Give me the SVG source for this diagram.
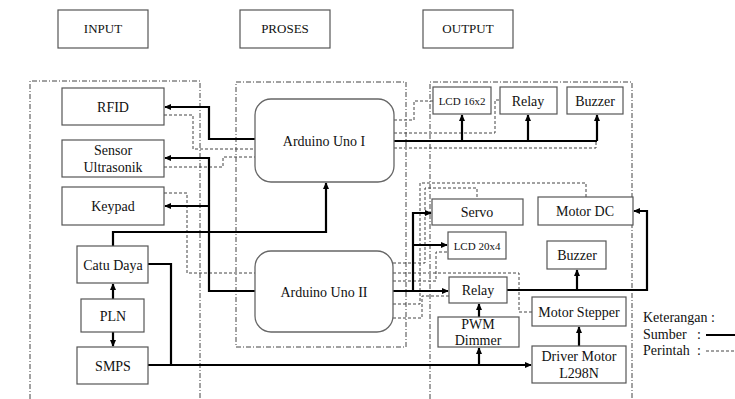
<svg xmlns="http://www.w3.org/2000/svg" width="735" height="399" viewBox="0 0 735 399" font-family="'Liberation Serif', 'Times New Roman', 'DejaVu Serif', serif">
<defs>
<marker id="ah" viewBox="0 0 8 8" refX="7" refY="4" markerWidth="7" markerHeight="7" markerUnits="userSpaceOnUse" orient="auto"><path d="M0,0.5 L8,4 L0,7.5 z" fill="#000"/></marker>
<style>
text{font-family:'Liberation Serif','Times New Roman','DejaVu Serif',serif}
.box{fill:#fff;stroke:#555;stroke-width:1.2}
.rbox{fill:#fff;stroke:#666;stroke-width:1.3}
.th{font-size:13px;fill:#111;text-anchor:middle}
.t{font-size:14px;fill:#111;text-anchor:middle}
.ts{font-size:11px;fill:#111;text-anchor:middle}
.tl{font-size:14px;fill:#111}
.reg{fill:none;stroke:#444;stroke-width:1;stroke-dasharray:5,2,1,2}
.src{fill:none;stroke:#000;stroke-width:2.2}
.arr{marker-end:url(#ah)}
.cmd{fill:none;stroke:#444;stroke-width:1;stroke-dasharray:3,2}
</style>
</defs>
<rect width="735" height="399" fill="#fff"/>
<g id="regions">
<path class="reg" d="M30,399 V81 H200 V399"/>
<rect class="reg" x="236" y="82" width="170" height="265"/>
<path class="reg" d="M430,399 V82 H632 V399"/>
</g>
<g id="header-input"><rect class="box" x="58" y="10" width="90" height="38"/><text class="th" x="103" y="33">INPUT</text></g>
<g id="header-proses"><rect class="box" x="240" y="10" width="90" height="38"/><text class="th" x="285" y="33">PROSES</text></g>
<g id="header-output"><rect class="box" x="423" y="10" width="90" height="38"/><text class="th" x="468" y="33">OUTPUT</text></g>
<g id="connectors">
<path class="cmd" d="M164,115 H193 V149 H255"/>
<path class="cmd" d="M164,167 H223 V157 H255"/>
<path class="cmd" d="M164,193 H187 V273 H255"/>
<path class="cmd" d="M394,120 H414 V101 H433"/>
<path class="cmd" d="M394,133 H495 V100 H500"/>
<path class="cmd" d="M394,148 H596 V141"/>
<path class="cmd" d="M393,263 H425 V188 H477 V199"/>
<path class="cmd" d="M393,304 H420 V183 H586 V197"/>
<path class="cmd" d="M393,281 H436 V252 H448"/>
<path class="cmd" d="M393,273 H519 V312 H532"/>
<path class="cmd" d="M393,318 H422 V296 H449"/>
<path class="src arr" d="M255,139 H209 V107 H165"/>
<path class="src arr" d="M255,291 H209 V158 H165"/>
<path class="src arr" d="M209,206 H165"/>
<path class="src arr" d="M113,246 V232 H326 V183"/>
<path class="src" d="M148,264 H171 V365"/>
<path class="src arr" d="M148,365 H531"/>
<path class="src arr" d="M479,365 V348"/>
<path class="src arr" d="M479,317 V304"/>
<path class="src arr" d="M579,346 V327"/>
<path class="src arr" d="M113,299 V284"/>
<path class="src arr" d="M113,332 V346"/>
<path class="src" d="M394,141 H597"/>
<path class="src arr" d="M462,141 V115"/>
<path class="src arr" d="M528,141 V115"/>
<path class="src arr" d="M597,141 V115"/>
<path class="src arr" d="M393,291 H448"/>
<path class="src arr" d="M413,291 V213 H431"/>
<path class="src arr" d="M413,245 H447"/>
<path class="src arr" d="M507,290 H647 V211 H634"/>
<path class="src arr" d="M577,290 V270"/>
</g>
<g id="rfid"><rect class="box" x="62" y="88" width="102" height="37"/><text class="t" x="113" y="111.5">RFID</text></g>
<g id="sensor-ultrasonik"><rect class="box" x="62" y="140" width="102" height="37"/><text class="t" x="113" y="155">Sensor</text><text class="t" x="113" y="172">Ultrasonik</text></g>
<g id="keypad"><rect class="box" x="62" y="187" width="102" height="38"/><text class="t" x="113" y="210.5">Keypad</text></g>
<g id="catu-daya"><rect class="box" x="77" y="246" width="71" height="37"/><text class="t" x="113" y="269.5">Catu Daya</text></g>
<g id="pln"><rect class="box" x="81" y="299" width="63" height="33"/><text class="t" x="113" y="320.5">PLN</text></g>
<g id="smps"><rect class="box" x="77" y="347" width="71" height="37"/><text class="t" x="113" y="370.5">SMPS</text></g>
<g id="arduino-1"><rect class="rbox" x="255" y="99" width="139" height="83" rx="16"/><text class="t" x="324" y="146">Arduino Uno I</text></g>
<g id="arduino-2"><rect class="rbox" x="255" y="251" width="138" height="81" rx="16"/><text class="t" x="324" y="297">Arduino Uno II</text></g>
<g id="lcd-16x2"><rect class="box" x="433" y="87" width="58" height="27"/><text class="ts" x="462" y="105">LCD 16x2</text></g>
<g id="relay-1"><rect class="box" x="500" y="87" width="57" height="27"/><text class="t" x="528" y="105.5">Relay</text></g>
<g id="buzzer-1"><rect class="box" x="567" y="87" width="56" height="27"/><text class="t" x="595" y="105.5">Buzzer</text></g>
<g id="servo"><rect class="box" x="432" y="199" width="91" height="26"/><text class="t" x="477" y="216.5">Servo</text></g>
<g id="motor-dc"><rect class="box" x="538" y="197" width="95" height="28"/><text class="t" x="585" y="215.5">Motor DC</text></g>
<g id="lcd-20x4"><rect class="box" x="448" y="232" width="58" height="27"/><text class="ts" x="477" y="250">LCD 20x4</text></g>
<g id="buzzer-2"><rect class="box" x="547" y="241" width="59" height="28"/><text class="t" x="577" y="259.5">Buzzer</text></g>
<g id="relay-2"><rect class="box" x="449" y="277" width="58" height="26"/><text class="t" x="478" y="294.5">Relay</text></g>
<g id="pwm-dimmer"><rect class="box" x="438" y="317" width="81" height="30"/><text class="t" x="478" y="329">PWM</text><text class="t" x="478" y="345">Dimmer</text></g>
<g id="motor-stepper"><rect class="box" x="532" y="297" width="94" height="29"/><text class="t" x="579" y="316.5">Motor Stepper</text></g>
<g id="driver-motor"><rect class="box" x="532" y="346" width="94" height="37"/><text class="t" x="579" y="361">Driver Motor</text><text class="t" x="579" y="378">L298N</text></g>
<g id="legend">
<text class="tl" x="643" y="322">Keterangan :</text>
<text class="tl" x="643" y="339">Sumber</text><text class="tl" x="697" y="339">:</text>
<text class="tl" x="643" y="355">Perintah</text><text class="tl" x="697" y="355">:</text>
<line x1="706" y1="335" x2="735" y2="335" stroke="#000" stroke-width="2"/>
<line class="cmd" x1="706" y1="351" x2="735" y2="351"/>
</g>
</svg>
